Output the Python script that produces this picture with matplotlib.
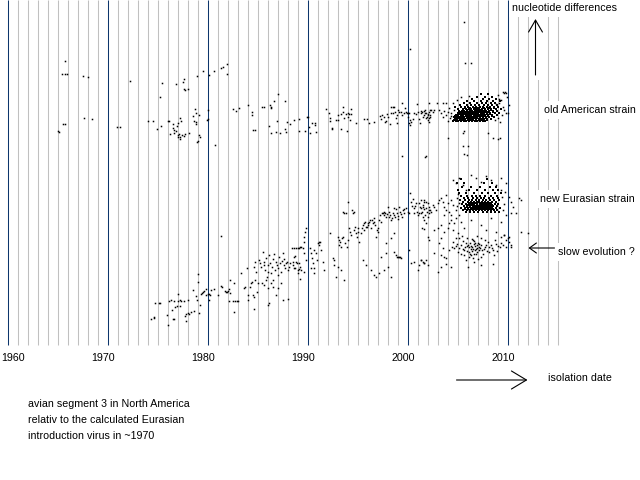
import matplotlib
matplotlib.use('Agg')
import matplotlib.pyplot as plt
from matplotlib.patches import Rectangle

# ---------------- axis / labels ----------------
decade_years = [1960, 1970, 1980, 1990, 2000, 2010]
tick_labels = ['1960', '1970', '1980', '1990', '2000', '2010']
year_lines = list(range(1960, 2016))

# ---------------- data: (isolation year, nucleotide differences) ----------------
old_american = [
    (1965.7, 269), (1965.4, 256), (1965.7, 256), (1965.9, 256), (1967.5, 254), (1968.0, 253),
    (1972.2, 249), (1975.4, 247), (1977.6, 251), (1977.5, 248), (1976.8, 246), (1978.9, 254),
    (1979.5, 259), (1980.1, 255), (1980.6, 259), (1981.3, 262), (1981.5, 263), (1981.9, 266),
    (1981.9, 256), (1977.6, 241), (1977.7, 240), (1978.0, 241), (1975.2, 233), (1978.7, 221),
    (1978.5, 214), (1978.8, 217), (1979.1, 215), (1980.0, 220), (1982.5, 221), (1982.8, 219),
    (1983.1, 222), (1965.5, 206), (1965.7, 206), (1967.6, 212), (1968.4, 211), (1965.0, 199),
    (1965.1, 198), (1970.9, 203), (1971.2, 203), (1974.0, 209), (1974.5, 209), (1974.9, 201),
    (1976.0, 209), (1976.1, 209), (1975.3, 204), (1976.5, 206), (1976.5, 202), (1976.6, 200),
    (1976.9, 204), (1977.0, 207), (1977.2, 212), (1977.3, 209), (1976.8, 199), (1976.2, 196),
    (1976.6, 197), (1977.0, 195), (1977.1, 196), (1977.2, 193), (1977.4, 195), (1977.6, 194),
    (1977.7, 196), (1978.1, 197), (1977.2, 191), (1977.0, 193), (1978.6, 209), (1978.8, 208),
    (1978.8, 206), (1979.1, 195), (1979.2, 193), (1978.9, 188), (1979.0, 189), (1980.0, 211),
    (1979.9, 210), (1980.7, 185),
    (1984.0, 225), (1984.4, 218), (1984.4, 215), (1984.5, 200), (1984.7, 200), (1985.4, 223),
    (1985.6, 223), (1986.2, 225), (1986.3, 223), (1986.3, 222), (1986.6, 229), (1987.0, 236),
    (1987.7, 229), (1986.1, 204), (1986.3, 197), (1986.9, 209), (1986.8, 198), (1987.2, 197),
    (1987.7, 201), (1987.8, 198), (1987.9, 208), (1988.2, 206), (1988.6, 210), (1989.1, 211),
    (1989.1, 199), (1989.7, 199), (1989.9, 213), (1990.0, 213), (1990.1, 203), (1990.2, 197),
    (1990.4, 207), (1990.7, 207), (1990.8, 198), (1990.7, 205), (1991.8, 221), (1992.1, 217),
    (1992.2, 212), (1992.2, 209), (1992.4, 202), (1992.4, 201), (1992.8, 210), (1993.0, 215),
    (1993.0, 210), (1993.3, 216), (1993.5, 223), (1993.5, 218), (1993.6, 212), (1993.3, 201),
    (1993.8, 216), (1994.0, 213), (1993.9, 199), (1994.0, 217), (1994.1, 216), (1994.3, 221),
    (1994.2, 210), (1994.3, 216), (1994.8, 207), (1995.6, 211), (1995.9, 211), (1996.1, 207),
    (1996.6, 208), (1997.2, 214), (1997.3, 211), (1997.4, 215), (1997.6, 213), (1997.7, 208),
    (1997.8, 209), (1997.9, 216), (1998.0, 213), (1998.2, 206), (1998.3, 223), (1998.5, 223),
    (1998.6, 223), (1998.3, 217), (1998.5, 217), (1998.7, 218), (1998.8, 212), (1998.9, 215),
    (1998.9, 207), (1999.0, 220), (1999.1, 218), (1999.3, 218), (1999.4, 227), (1999.4, 215),
    (1999.6, 217), (1999.7, 222), (1999.8, 218), (1999.9, 217), (2000.0, 217), (2000.0, 213),
    (2000.1, 217), (2000.2, 210), (2000.1, 207), (2000.2, 205), (2000.3, 208), (2000.5, 211),
    (2000.6, 217), (2000.8, 216), (2000.9, 226), (2001.0, 218), (2001.1, 211), (2001.2, 207),
    (2001.3, 217), (2001.4, 218), (2001.5, 213), (2001.6, 215), (2001.7, 220), (2001.8, 217),
    (2001.9, 213), (2002.0, 216), (2002.1, 218), (2002.1, 212), (2002.2, 215), (2002.2, 220),
    (1999.4, 174), (2001.8, 174), (2000.2, 281), (2005.6, 308), (2005.7, 267), (2006.3, 267),
    (2002.1, 227), (2002.9, 227), (2003.5, 227), (2003.8, 227), (2001.3, 219), (2001.6, 219),
    (2001.7, 217), (2002.0, 215), (2002.5, 218), (2002.3, 220), (2002.6, 220), (2001.8, 212),
    (2002.0, 210), (2002.1, 208), (2002.2, 213), (2003.1, 220), (2003.3, 217), (2003.5, 213),
    (2003.6, 219), (2003.8, 215), (2004.0, 218), (2004.1, 222), (2004.3, 217), (2004.5, 227),
    (2004.6, 220), (2009.0, 235), (2009.5, 238), (2009.6, 237), (2009.8, 237), (2009.3, 230),
    (2009.1, 227), (2009.5, 223), (2009.6, 220), (2009.8, 217), (2010.1, 225), (2010.0, 217),
    (2009.0, 212), (2009.2, 208), (2009.7, 238), (2009.9, 233), (2005.6, 199), (2005.5, 197),
    (2008.0, 197), (2008.5, 192), (2009.0, 191), (2009.2, 192), (2004.0, 192), (2005.5, 184),
    (2006.0, 184), (2005.6, 176), (2005.9, 175), (2001.7, 173),
    (2004.2, 212), (2004.0, 209), (2004.3, 214), (2008.7, 210), (2009.4, 215), (2008.8, 226),
    (2004.9, 230), (2005.3, 233), (2006.1, 234), (2009.1, 231),
]

old_american_core = {
    209: [2004.5, 2004.8, 2005.0, 2005.3, 2005.6, 2005.8, 2006.1, 2006.4, 2006.7, 2006.9, 2007.2, 2007.5, 2007.7],
    210: [2004.6, 2004.9, 2005.2, 2005.5, 2005.7, 2006.0, 2006.3, 2006.5, 2006.8, 2007.1, 2007.4, 2007.9],
    211: [2004.7, 2004.9, 2005.2, 2005.4, 2005.7, 2006.0, 2006.2, 2006.5, 2006.8, 2007.1, 2007.3, 2007.6, 2007.9, 2008.3],
    212: [2004.8, 2005.1, 2005.3, 2005.6, 2005.9, 2006.1, 2006.4, 2006.6, 2006.9, 2007.2, 2007.5, 2007.8],
    213: [2004.6, 2004.9, 2005.1, 2005.4, 2005.6, 2005.9, 2006.2, 2006.4, 2006.7, 2006.9, 2007.2, 2007.5, 2007.8, 2008.1, 2008.6],
    214: [2004.7, 2005.0, 2005.3, 2005.5, 2005.8, 2006.0, 2006.3, 2006.6, 2006.8, 2007.0, 2007.3, 2007.6, 2008.0, 2008.4],
    215: [2004.8, 2005.0, 2005.3, 2005.5, 2005.8, 2006.1, 2006.3, 2006.6, 2006.9, 2007.1, 2007.4, 2007.7, 2008.0, 2008.4, 2008.9],
    216: [2005.1, 2005.4, 2005.7, 2005.9, 2006.2, 2006.5, 2006.7, 2007.0, 2007.3, 2007.5, 2007.9, 2008.2],
    217: [2005.0, 2005.2, 2005.5, 2005.7, 2006.0, 2006.3, 2006.5, 2006.8, 2007.0, 2007.3, 2007.6, 2007.9, 2008.2, 2008.7, 2009.1],
    218: [2005.3, 2005.6, 2005.8, 2006.1, 2006.4, 2006.6, 2006.9, 2007.2, 2007.4, 2007.7, 2008.0, 2008.5],
    219: [2005.1, 2005.4, 2005.6, 2005.9, 2006.2, 2006.4, 2006.7, 2007.0, 2007.2, 2007.5, 2007.8, 2008.1, 2008.5, 2008.9],
    220: [2005.5, 2005.9, 2006.3, 2006.8, 2007.3, 2007.7, 2008.3],
    221: [2005.0, 2005.5, 2005.8, 2006.1, 2006.3, 2006.6, 2006.9, 2007.1, 2007.4, 2007.7, 2008.0, 2008.3, 2008.8, 2009.3],
    222: [2005.7, 2006.2, 2006.7, 2007.0, 2007.6, 2008.1, 2008.6],
    223: [2004.7, 2005.3, 2005.7, 2006.0, 2006.5, 2006.8, 2007.2, 2007.5, 2007.9, 2008.2, 2008.6, 2009.0],
    225: [2005.2, 2005.9, 2006.3, 2006.7, 2007.1, 2007.6, 2008.0, 2008.4, 2008.9],
    227: [2005.6, 2006.2, 2006.9, 2007.4, 2007.8, 2008.3, 2008.7],
    229: [2005.9, 2006.6, 2007.3, 2007.9, 2008.5, 2009.2],
    231: [2006.4, 2007.5, 2008.1, 2008.8],
    233: [2006.9, 2007.7, 2008.4],
    236: [2007.3, 2008.0],
}

new_eurasian = [
    (1974.3, 11), (1974.6, 12), (1974.6, 13), (1974.7, 27), (1975.1, 27), (1975.2, 27), (1975.9, 15),
    (1976.0, 5), (1976.1, 29), (1976.3, 30), (1976.4, 20), (1976.5, 11), (1976.6, 11), (1976.6, 29),
    (1976.7, 23), (1976.9, 24), (1977.0, 36), (1977.0, 29), (1977.2, 30), (1977.2, 24), (1977.3, 29),
    (1977.6, 29), (1977.7, 14), (1977.8, 9), (1977.8, 16), (1978.0, 17), (1978.0, 30), (1978.1, 16),
    (1978.3, 18), (1978.5, 40), (1978.6, 19), (1978.8, 34), (1978.9, 30), (1979.0, 48), (1979.0, 56),
    (1979.1, 17), (1979.2, 25), (1979.3, 36), (1979.4, 37), (1979.5, 38), (1979.6, 39), (1979.8, 41),
    (1979.8, 35), (1980.0, 36), (1980.1, 36), (1980.1, 30), (1980.2, 35), (1980.3, 40), (1980.6, 41),
    (1981.0, 35), (1981.3, 44), (1981.4, 43), (1981.7, 39), (1981.8, 38), (1981.9, 38), (1982.0, 39),
    (1982.1, 29), (1982.1, 41), (1982.2, 37), (1982.2, 50), (1982.5, 29), (1982.6, 18), (1982.6, 47),
    (1982.7, 29), (1982.9, 29), (1983.0, 29), (1983.3, 57), (1983.6, 42), (1983.7, 43), (1983.9, 62),
    (1984.0, 35), (1984.0, 30), (1984.2, 43), (1984.3, 47), (1984.4, 48), (1984.5, 35), (1984.6, 33),
    (1984.6, 21), (1984.7, 68), (1984.9, 38), (1985.0, 47), (1981.3, 94),
    (1985.1, 70), (1985.2, 67), (1985.3, 63), (1985.5, 78), (1985.6, 68), (1985.6, 65), (1985.7, 60),
    (1985.8, 72), (1985.9, 53), (1986.0, 65), (1986.0, 58), (1986.1, 75), (1986.2, 67), (1986.3, 57),
    (1986.4, 63), (1986.5, 71), (1986.5, 50), (1986.6, 76), (1986.7, 60), (1986.8, 68), (1986.9, 65),
    (1987.0, 55), (1987.0, 62), (1987.1, 73), (1987.2, 67), (1987.3, 58), (1987.4, 69), (1987.5, 77),
    (1987.6, 65), (1987.6, 71), (1987.7, 62), (1987.8, 67), (1987.9, 68), (1988.0, 60), (1988.1, 63),
    (1988.2, 67), (1988.4, 82), (1988.5, 65), (1988.6, 82), (1988.6, 62), (1988.7, 74), (1988.8, 82),
    (1988.9, 67), (1989.0, 82), (1989.0, 57), (1989.1, 61), (1989.2, 51), (1989.2, 83), (1985.4, 47),
    (1985.6, 45), (1985.8, 50), (1986.0, 42), (1986.3, 47), (1986.5, 43), (1986.8, 35), (1987.0, 42),
    (1987.3, 47), (1987.5, 30), (1988.0, 31), (1986.0, 25), (1986.1, 27), (1984.6, 63), (1984.8, 58),
    (1984.7, 50),
    (1989.8, 102), (1989.7, 98), (1989.6, 93), (1989.6, 88), (1989.3, 83), (1989.5, 82), (1989.1, 82),
    (1988.6, 73), (1988.5, 68), (1988.8, 68), (1989.1, 67), (1989.2, 63), (1989.6, 77), (1989.8, 70),
    (1989.6, 58), (1988.7, 62), (1989.0, 60), (1989.3, 60), (1990.2, 82), (1990.3, 77), (1990.4, 72),
    (1990.5, 67), (1990.6, 62), (1990.6, 80), (1990.8, 77), (1990.9, 70), (1991.0, 87), (1991.1, 88),
    (1991.1, 85), (1991.2, 88), (1991.3, 80), (1991.5, 68), (1991.6, 60), (1990.3, 62), (1990.6, 57),
    (1992.2, 97), (1992.5, 72), (1992.6, 70), (1993.0, 93), (1993.1, 90), (1993.1, 85), (1993.2, 88),
    (1993.3, 83), (1993.4, 92), (1993.5, 93), (1993.5, 118), (1993.6, 117), (1993.8, 117), (1993.7, 87),
    (1993.9, 83), (1994.0, 90), (1994.0, 128), (1994.1, 102), (1994.2, 98), (1994.3, 95), (1994.4, 120),
    (1994.5, 117), (1994.6, 100), (1994.6, 118), (1994.7, 103), (1994.8, 97), (1994.9, 93), (1995.0, 102),
    (1995.0, 98), (1995.1, 88), (1995.3, 97), (1995.4, 102), (1995.5, 105), (1995.6, 100), (1995.6, 107),
    (1995.7, 108), (1995.8, 103), (1995.9, 103), (1996.0, 107), (1996.0, 105), (1996.1, 108), (1996.2, 110),
    (1996.3, 102), (1996.4, 110), (1996.5, 107), (1996.6, 112), (1996.6, 108), (1996.7, 105), (1996.8, 93),
    (1996.9, 100), (1997.0, 98), (1997.0, 102), (1997.1, 110), (1997.2, 115), (1997.3, 108), (1997.4, 117),
    (1997.5, 117), (1997.6, 118), (1997.6, 115), (1997.7, 117), (1997.8, 113), (1997.9, 116), (1998.0, 123),
    (1998.1, 118), (1998.1, 113), (1998.2, 115), (1998.3, 110), (1998.4, 112), (1998.5, 117), (1998.6, 115),
    (1998.6, 122), (1998.7, 113), (1998.8, 121), (1998.9, 117), (1999.0, 111), (1999.0, 114), (1999.1, 123),
    (1999.2, 118), (1999.3, 116), (1999.4, 113), (1999.5, 120), (1999.6, 117), (1999.6, 121), (1999.8, 122),
    (2000.0, 118), (2000.1, 117), (2000.2, 137), (2000.3, 128), (2000.4, 124), (2000.5, 131), (2000.6, 117),
    (2000.6, 122), (2000.7, 124), (2000.8, 127), (2000.9, 118), (2001.0, 115), (2001.1, 127), (2001.1, 117),
    (2001.2, 123), (2001.3, 122), (2001.4, 118), (2001.5, 125), (2001.6, 130), (2001.6, 121), (2001.7, 115),
    (2001.8, 128), (2001.9, 118), (2002.0, 113), (2002.1, 123), (2002.1, 117), (2002.2, 120),
    (1992.6, 65), (1993.0, 63), (1993.3, 60), (1992.8, 53), (1993.6, 50), (1995.5, 70), (1995.8, 65),
    (1996.3, 60), (1997.1, 57), (1997.3, 73), (1997.8, 77), (1998.3, 53), (1998.6, 78), (1998.8, 75),
    (1998.9, 73), (1999.0, 73), (1999.1, 73), (1999.2, 73), (1999.3, 72), (1997.8, 87), (1998.3, 92),
    (1998.6, 97), (1996.6, 55), (1996.8, 53), (2001.0, 60), (2001.1, 65), (2001.3, 70), (2001.5, 68),
    (2001.6, 67), (2001.8, 70), (2000.6, 68), (2000.3, 67), (2000.1, 80), (1998.0, 63), (1997.6, 60),
    (2001.3, 130), (2001.6, 128), (2002.0, 127), (2001.5, 123), (2001.8, 122), (2002.1, 120), (2002.3, 118),
    (2002.5, 125), (2002.6, 123), (2002.8, 120), (2003.0, 127), (2003.1, 130), (2003.3, 132), (2003.5, 128),
    (2003.6, 123), (2003.8, 120), (2004.0, 127), (2001.3, 117), (2001.5, 113), (2001.6, 110), (2001.8, 107),
    (2001.4, 102), (2001.6, 101), (2002.0, 93), (2002.1, 90), (2002.6, 100), (2003.0, 102), (2003.3, 105),
    (2003.6, 98), (2003.3, 92), (2003.5, 82), (2004.0, 102), (2004.1, 107), (2004.3, 110), (2004.5, 100),
    (2004.6, 107), (2005.0, 97), (2005.1, 92), (2001.3, 70), (2001.6, 67), (2002.0, 65), (2003.3, 63),
    (2003.0, 58), (2003.8, 72), (2003.1, 87), (2002.6, 77), (2004.1, 80),
    (2010.1, 133), (2010.3, 128), (2010.5, 123), (2011.1, 132), (2011.3, 130), (2010.3, 117), (2010.8, 117),
    (2012.0, 97), (2011.3, 98), (2010.0, 92), (2010.1, 88), (2010.3, 85), (2009.3, 93), (2009.6, 95),
    (2004.5, 150), (2004.8, 147), (2005.1, 152), (2005.5, 145), (2006.8, 152), (2007.3, 148), (2007.8, 154),
    (2008.3, 150), (2008.8, 145), (2009.3, 152), (2009.8, 147), (2006.3, 155), (2005.8, 140), (2009.3, 140),
    (2003.8, 135), (2004.3, 130), (2004.5, 125), (2004.8, 120), (2004.1, 118), (2004.9, 132), (2003.6, 115),
    (2004.3, 115), (2005.1, 127),
    (2004.8, 112), (2005.3, 108), (2006.3, 110), (2007.3, 105), (2008.3, 112), (2009.3, 108), (2005.6, 102),
    (2007.8, 100), (2008.8, 98), (2009.8, 115), (2005.1, 115),
    (2009.5, 120), (2009.6, 126), (2009.4, 133), (2004.9, 124), (2005.0, 136), (2009.7, 138),
]

new_eurasian_core = {
    118: [2005.8, 2006.2, 2006.6, 2007.0, 2007.5, 2007.9, 2008.3, 2008.7, 2009.1],
    120: [2005.5, 2005.9, 2006.2, 2006.5, 2006.8, 2007.1, 2007.4, 2007.7, 2008.0, 2008.3, 2008.6, 2008.9],
    121: [2005.7, 2006.0, 2006.4, 2006.7, 2007.0, 2007.3, 2007.6, 2007.9, 2008.2, 2008.5],
    122: [2005.3, 2005.7, 2006.0, 2006.3, 2006.6, 2006.9, 2007.2, 2007.5, 2007.8, 2008.1, 2008.4, 2008.8, 2009.2],
    123: [2005.9, 2006.2, 2006.5, 2006.8, 2007.1, 2007.4, 2007.7, 2008.0, 2008.3],
    124: [2005.6, 2005.9, 2006.2, 2006.5, 2006.7, 2007.0, 2007.3, 2007.6, 2007.9, 2008.2, 2008.5, 2008.9],
    125: [2006.0, 2006.3, 2006.6, 2006.9, 2007.2, 2007.5, 2007.8, 2008.1, 2008.4],
    126: [2005.4, 2005.8, 2006.1, 2006.4, 2006.6, 2006.9, 2007.2, 2007.4, 2007.7, 2008.0, 2008.3, 2008.7, 2009.0],
    127: [2006.2, 2006.5, 2006.8, 2007.3, 2007.6, 2007.9, 2008.2],
    128: [2005.5, 2006.0, 2006.3, 2006.6, 2006.9, 2007.1, 2007.4, 2007.7, 2008.0, 2008.4, 2008.8],
    130: [2005.2, 2005.7, 2006.1, 2006.4, 2006.8, 2007.1, 2007.5, 2007.8, 2008.2, 2008.6, 2009.1],
    132: [2005.6, 2006.0, 2006.5, 2006.9, 2007.3, 2007.6, 2008.1, 2008.5, 2009.0],
    134: [2005.3, 2005.9, 2006.4, 2006.8, 2007.2, 2007.7, 2008.3, 2008.9],
    137: [2005.1, 2005.8, 2006.6, 2007.4, 2008.0, 2008.7, 2009.3],
    140: [2005.0, 2006.1, 2006.9, 2007.7, 2008.5, 2009.0],
    143: [2005.4, 2006.3, 2007.2, 2008.2, 2008.8],
    147: [2004.9, 2005.6, 2007.6, 2008.4],
    151: [2005.3, 2007.9],
}

slow_evolution = [
    (2004.4, 83), (2004.6, 82), (2004.8, 84), (2005.3, 85), (2005.5, 81), (2005.6, 80), (2005.8, 87),
    (2006.0, 85), (2006.1, 83), (2006.3, 81), (2006.4, 91), (2006.5, 90), (2006.6, 86), (2006.6, 89),
    (2006.7, 84), (2006.8, 81), (2006.9, 78), (2007.0, 87), (2007.1, 83), (2007.1, 80), (2007.3, 85),
    (2007.5, 76), (2007.6, 81), (2007.8, 85), (2008.0, 88), (2008.1, 83), (2008.3, 85), (2008.5, 80),
    (2008.6, 75), (2008.8, 86), (2009.0, 84), (2009.3, 87), (2009.5, 85), (2009.6, 95), (2009.8, 90),
    (2010.1, 93), (2010.3, 83), (2009.8, 83), (2006.6, 76), (2006.3, 75), (2006.1, 73), (2006.5, 72),
    (2005.6, 75), (2005.3, 76), (2005.0, 78), (2007.3, 73), (2007.0, 71), (2003.3, 75), (2003.6, 73),
    (2003.8, 66), (2004.3, 63), (2006.0, 63), (2007.3, 65), (2008.5, 66), (2006.6, 68), (2005.8, 70),
    (2005.9, 84), (2006.2, 87), (2006.4, 83), (2006.7, 80), (2006.9, 85), (2007.2, 82), (2006.1, 78),
    (2006.4, 79), (2006.8, 76), (2007.1, 86), (2006.3, 84), (2006.5, 81), (2006.9, 82), (2006.7, 87),
    (2006.2, 76), (2005.7, 83), (2005.9, 79), (2007.4, 80), (2007.7, 83), (2007.9, 79), (2005.1, 82),
    (2004.9, 86), (2005.5, 89), (2008.1, 78), (2008.4, 82), (2008.9, 79), (2009.2, 83), (2008.7, 90),
    (2007.7, 90), (2007.3, 92), (2006.9, 94), (2005.9, 92), (2005.4, 94), (2004.8, 92), (2004.5, 88),
]


def core_points(core):
    pts = []
    for d, ys in core.items():
        for y in ys:
            pts.append((y, d))
    return pts


sparse_points = old_american + new_eurasian + slow_evolution
dense_points = core_points(old_american_core) + core_points(new_eurasian_core)

# ---------------- figure ----------------
FONT = 'Liberation Sans'
FS = 7.7
fig = plt.figure(figsize=(6.4, 4.8), dpi=100)
ax = fig.add_axes([0, 0, 1, 1])
ax.set_xlim(1959.25, 2023.25)
ax.set_ylim(-150, 330)
ax.axis('off')

minor = [y for y in year_lines if y not in decade_years]
ax.vlines(minor, -15, 330, colors='#c0c0c0', lw=0.75, zorder=1)
ax.vlines(decade_years, -15, 330, colors='#0d356b', lw=0.75, zorder=1)

ax.plot([p[0] for p in sparse_points], [p[1] for p in sparse_points],
        linestyle='none', marker='s', markersize=1.1, mew=0, color='black', zorder=3)
ax.plot([p[0] for p in dense_points], [p[1] for p in dense_points],
        linestyle='none', marker='s', markersize=2.0, mew=0, color='black', zorder=3)

for yr, lab in zip(decade_years, tick_labels):
    if yr == decade_years[0]:
        ax.text(1959.35, -28, lab, ha='left', va='center', fontsize=FS, family=FONT)
    else:
        ax.text(yr - 0.45, -28, lab, ha='center', va='center', fontsize=FS, family=FONT)

box = dict(boxstyle='square,pad=0.35', fc='white', ec='none')
ax.text(2010.5, 322, 'nucleotide differences', ha='left', va='center',
        fontsize=FS, family=FONT, bbox=box, zorder=4)
ax.text(2013.6, 220, 'old American strain', ha='left', va='center',
        fontsize=FS, family=FONT, bbox=box, zorder=4)
ax.text(2013.2, 131, 'new Eurasian strain', ha='left', va='center',
        fontsize=FS, family=FONT, bbox=box, zorder=4)
ax.text(2015.0, 78, 'slow evolution ?', ha='left', va='center',
        fontsize=FS, family=FONT, bbox=box, zorder=4)
ax.text(2014.0, -48, 'isolation date', ha='left', va='center',
        fontsize=FS, family=FONT, zorder=4)

ax.add_patch(Rectangle((2012.3, 250), 1.2, 64, fc='white', ec='none', zorder=2))
ax.annotate('', xy=(2012.8, 311), xytext=(2012.8, 255),
            arrowprops=dict(arrowstyle='->,head_length=0.86,head_width=0.5',
                            lw=0.8, color='black', shrinkA=0, shrinkB=0,
                            mutation_scale=10), zorder=5)
ax.annotate('', xy=(2012.1, 82), xytext=(2014.7, 82),
            arrowprops=dict(arrowstyle='->,head_length=0.5,head_width=0.36',
                            lw=0.8, color='black', shrinkA=0, shrinkB=0,
                            mutation_scale=10), zorder=5)
ax.annotate('', xy=(2012.0, -50), xytext=(2004.9, -50),
            arrowprops=dict(arrowstyle='->,head_length=1.08,head_width=0.65',
                            lw=0.8, color='black', shrinkA=0, shrinkB=0,
                            mutation_scale=10), zorder=5)

notes = ['avian segment 3 in North America',
         'relativ to the calculated Eurasian',
         'introduction virus in ~1970']
for i, line in enumerate(notes):
    ax.text(1962.1, -74 - 16 * i, line, ha='left', va='center',
            fontsize=FS, family=FONT)

fig.savefig('out.png', dpi=100, facecolor='white')
